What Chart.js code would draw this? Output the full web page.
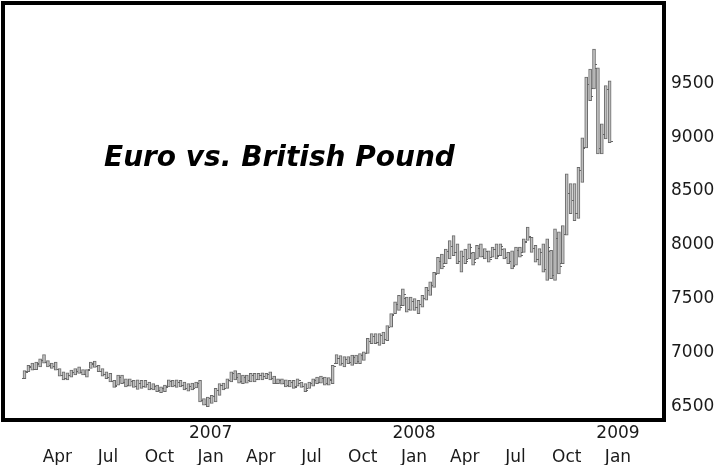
<!DOCTYPE html>
<html>
<head>
<meta charset="utf-8">
<script src="https://cdn.jsdelivr.net/npm/chart.js@4.4.0/dist/chart.umd.min.js"></script>
<style>
  html, body { margin: 0; padding: 0; background: #fff; }
  #wrap { width: 720px; height: 465px; }
</style>
</head>
<body>
<div id="wrap"><canvas id="chart"></canvas></div>
<script>
// weekly EUR/GBP bars (x10000), first week starting Feb 2006
const firstWeek = "2006-02-01";

const highs = [
  6830,6880,6900,6910,6940,6980,6925,6900,6910,6850,
  6820,6810,6835,6850,6865,6840,6840,6910,6920,6880,
  6850,6820,6805,6740,6790,6790,6755,6755,6740,6745,
  6740,6740,6725,6710,6695,6680,6695,6745,6740,6745,
  6740,6725,6710,6715,6725,6740,6570,6585,6600,6665,
  6710,6715,6755,6820,6830,6805,6790,6790,6805,6805,
  6805,6810,6805,6820,6780,6755,6755,6745,6740,6740,
  6755,6725,6710,6725,6755,6770,6780,6770,6765,6880,
  6980,6970,6960,6960,6975,6975,6990,7005,7130,7175,
  7175,7175,7190,7250,7360,7470,7530,7590,7515,7515,
  7500,7485,7530,7605,7655,7745,7885,7915,7960,8040,
  8085,8010,7945,7960,8010,7930,7995,8010,7965,7945,
  7980,8010,8010,7965,7930,7945,7980,7980,8055,8165,
  8070,7995,7965,8010,8055,7950,8150,8120,8180,8660,
  8570,8570,8720,8995,9560,9635,9820,9645,9125,9480,
  9525
];
const lows = [
  6755,6820,6835,6840,6865,6900,6865,6850,6835,6780,
  6745,6745,6770,6790,6805,6790,6770,6850,6860,6820,
  6780,6755,6725,6675,6695,6710,6680,6685,6675,6655,
  6665,6675,6650,6650,6635,6625,6635,6680,6680,6675,
  6680,6650,6640,6650,6670,6540,6510,6495,6525,6540,
  6600,6650,6665,6725,6745,6715,6710,6715,6725,6725,
  6745,6745,6755,6745,6710,6710,6705,6680,6680,6665,
  6685,6675,6635,6665,6685,6710,6715,6695,6695,6710,
  6895,6880,6865,6895,6880,6895,6895,6925,6990,7080,
  7080,7065,7080,7110,7235,7360,7390,7435,7375,7390,
  7390,7360,7420,7485,7530,7605,7730,7775,7825,7870,
  7900,7825,7745,7825,7870,7810,7870,7885,7870,7840,
  7885,7870,7900,7870,7825,7775,7810,7885,7930,8040,
  7930,7840,7810,7745,7670,7685,7670,7730,7825,8090,
  8290,8225,8245,8580,8900,9340,9450,8845,8845,8985,
  8950
];
const opens = [
  6760,6825,6860,6850,6890,6925,6910,6880,6870,6845,
  6790,6760,6790,6815,6830,6815,6800,6850,6895,6870,
  6830,6795,6770,6735,6700,6770,6725,6700,6735,6690,
  6720,6690,6710,6665,6690,6650,6665,6685,6730,6700,
  6725,6700,6665,6690,6670,6715,6555,6520,6575,6590,
  6650,6695,6670,6740,6805,6770,6730,6775,6740,6790,
  6750,6790,6780,6795,6760,6720,6740,6715,6700,6725,
  6685,6720,6690,6665,6715,6740,6725,6760,6715,6745,
  6900,6950,6900,6935,6910,6960,6920,6975,6995,7110,
  7150,7100,7160,7120,7240,7360,7450,7440,7510,7400,
  7480,7420,7450,7510,7580,7630,7740,7850,7830,7940,
  7990,7930,7850,7900,7870,7925,7870,7970,7900,7940,
  7885,7960,7905,7960,7890,7850,7810,7950,7935,8040,
  8070,7970,7870,7930,7780,7940,7720,8060,7830,8100,
  8480,8420,8300,8700,8910,9500,9460,9640,8900,9030,
  9450
];
const closes = [
  6820,6870,6850,6900,6930,6910,6880,6870,6845,6790,
  6760,6790,6820,6830,6815,6800,6835,6900,6870,6830,
  6795,6770,6735,6690,6770,6725,6700,6735,6690,6720,
  6690,6710,6665,6690,6650,6665,6680,6730,6700,6725,
  6700,6665,6690,6665,6715,6555,6520,6575,6590,6650,
  6695,6665,6740,6805,6770,6730,6775,6740,6790,6750,
  6790,6780,6795,6760,6720,6740,6715,6700,6725,6680,
  6740,6690,6650,6715,6740,6725,6760,6715,6750,6870,
  6950,6900,6935,6910,6960,6920,6975,6995,7110,7150,
  7100,7160,7120,7235,7345,7450,7420,7540,7400,7480,
  7420,7450,7510,7580,7630,7730,7850,7800,7940,7990,
  7930,7850,7900,7850,7980,7840,7970,7900,7940,7870,
  7960,7900,7990,7890,7850,7800,7950,7910,8030,8080,
  7970,7870,7930,7780,7980,7720,8060,7800,8100,8480,
  8420,8300,8700,8900,9500,9380,9680,8900,9030,9450,
  8970
];

const yTicks = [6500, 7000, 7500, 8000, 8500, 9000, 9500];
const quarterTicks = [
  "2006-04-01","2006-07-01","2006-10-01",
  "2007-01-01","2007-04-01","2007-07-01","2007-10-01",
  "2008-01-01","2008-04-01","2008-07-01","2008-10-01",
  "2009-01-01"
];
const monthNames = { 1: "Jan", 4: "Apr", 7: "Jul", 10: "Oct" };
const chartTitle = "Euro vs. British Pound";

// days since 1 Jan 2006
function dayNum(s) {
  const [y, m, d] = s.split("-").map(Number);
  return (Date.UTC(y, m - 1, d) - Date.UTC(2006, 0, 1)) / 86400000;
}

const start = dayNum(firstWeek);
const bars = highs.map((h, i) => ({ x: start + i * 7, y: [lows[i], h] }));

const tickLabels = {};
quarterTicks.forEach(q => {
  const m = Number(q.slice(5, 7));
  tickLabels[dayNum(q)] = m === 1 ? [q.slice(0, 4), monthNames[m]] : ["", monthNames[m]];
});

const FONT = "'DejaVu Sans', Verdana, sans-serif";

// open/close ticks on each bar
const ohlcTicks = {
  id: "ohlcTicks",
  afterDatasetsDraw(chart) {
    const ctx = chart.ctx;
    const y = chart.scales.y;
    const meta = chart.getDatasetMeta(0);
    ctx.save();
    ctx.strokeStyle = "#666";
    ctx.lineWidth = 1;
    meta.data.forEach((el, i) => {
      const yo = Math.round(y.getPixelForValue(opens[i])) + 0.5;
      const yc = Math.round(y.getPixelForValue(closes[i])) + 0.5;
      const x = Math.round(el.x);
      ctx.beginPath();
      ctx.moveTo(x - 3, yo); ctx.lineTo(x - 1, yo);
      ctx.moveTo(x + 1, yc); ctx.lineTo(x + 3, yc);
      ctx.stroke();
    });
    ctx.restore();
  }
};

// thick frame and the title inside the plot
const frame = {
  id: "frame",
  afterDraw(chart) {
    const { ctx, chartArea: a } = chart;
    ctx.save();
    ctx.strokeStyle = "#000";
    ctx.lineWidth = 4;
    ctx.strokeRect(a.left - 2, a.top - 2, a.right - a.left + 4, a.bottom - a.top + 4);
    ctx.fillStyle = "#000";
    ctx.font = "italic bold 28px " + FONT;
    ctx.textBaseline = "alphabetic";
    ctx.fillText(chartTitle, a.left + 99, a.top + 161);
    ctx.restore();
  }
};

new Chart(document.getElementById("chart"), {
  type: "bar",
  data: {
    datasets: [{
      data: bars,
      backgroundColor: "#c0c0c0",
      borderColor: "#6a6a6a",
      borderWidth: 1,
      borderSkipped: false,
      barThickness: 3
    }]
  },
  options: {
    responsive: true,
    maintainAspectRatio: false,
    animation: false,
    layout: { padding: { left: 5, top: 5, right: 0, bottom: 0 } },
    plugins: {
      legend: { display: false },
      tooltip: { enabled: false }
    },
    scales: {
      x: {
        type: "linear",
        offset: false,
        min: -4,
        max: 1175,
        grid: { display: false, drawTicks: false },
        border: { display: false },
        afterBuildTicks: s => { s.ticks = quarterTicks.map(q => ({ value: dayNum(q) })); },
        afterFit: s => { s.height = 47; s.paddingLeft = 0; s.paddingRight = 0; },
        ticks: {
          autoSkip: false,
          maxRotation: 0,
          padding: 4,
          color: "#1a1a1a",
          font: { family: FONT, size: 17, lineHeight: 1.41 },
          callback: v => tickLabels[v] || ""
        }
      },
      y: {
        position: "right",
        min: 6390,
        max: 10230,
        grid: { display: false, drawTicks: false },
        border: { display: false },
        afterBuildTicks: s => { s.ticks = yTicks.map(v => ({ value: v })); },
        afterFit: s => { s.width = 58; s.paddingTop = 0; s.paddingBottom = 0; },
        ticks: {
          padding: 9,
          color: "#1a1a1a",
          font: { family: FONT, size: 17 },
          callback: v => String(v)
        }
      }
    }
  },
  plugins: [ohlcTicks, frame]
});
</script>
</body>
</html>
